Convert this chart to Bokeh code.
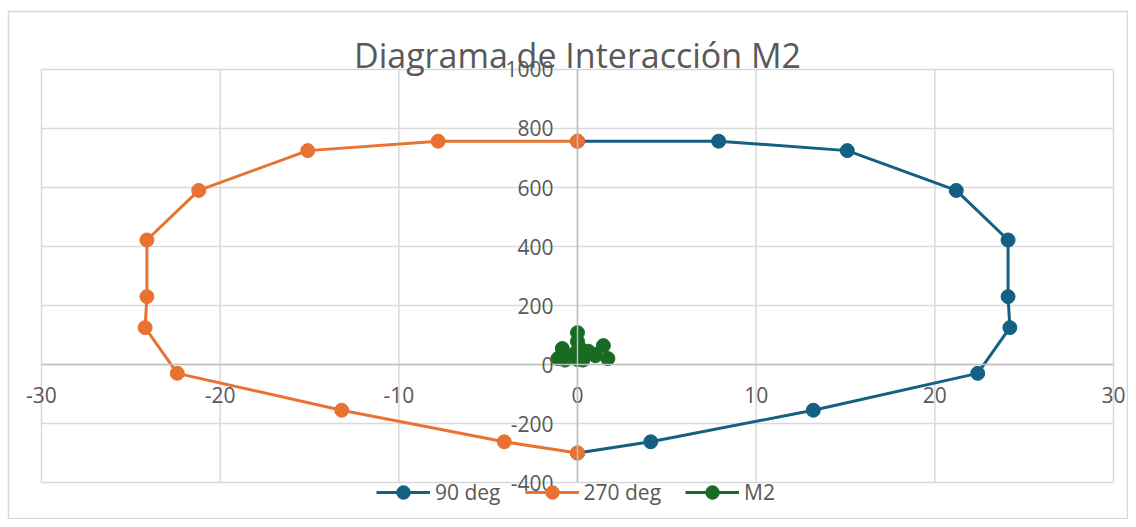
from bokeh.plotting import figure
from bokeh.models import (Range1d, LinearAxis, FixedTicker, Legend, LegendItem, Label,
                          CustomJSTickFormatter)
from bokeh.embed import file_html
from bokeh.resources import INLINE

# ---- data ----
title_text = "Diagrama de Interacción M2"
x_ticks = [-30, -20, -10, 0, 10, 20, 30]
y_ticks = [-400, -200, 0, 200, 400, 600, 800, 1000]

m_90 = [0, 4.1, 13.2, 22.4, 24.2, 24.1, 24.1, 21.2, 15.1, 7.9, 0]
p_90 = [-300, -262, -155, -30, 125, 230, 422, 590, 725, 757, 757]

m_270 = [0, -4.1, -13.2, -22.4, -24.2, -24.1, -24.1, -21.2, -15.1, -7.8, 0]
p_270 = [-300, -262, -155, -30, 125, 230, 422, 590, 725, 757, 757]

m_m2 = [0.0, 0.3, -0.7, -1.1, -0.85, -0.4, 0.0, 0.0, 0.0, 0.6, 1.45, 1.0, 1.7, 0.3]
p_m2 = [17, 15, 15, 20, 54, 30, 47, 78, 108, 45, 64, 30, 20, 35]

series_names = ["90 deg", "270 deg", "M2"]
colors = ["#156082", "#E97132", "#196B24"]

TEXT = "#595959"
GRID = "#D9D9D9"
FONT = "Open Sans"

# frame = whole chart area; the plot area inside it is bounded by the grid
p = figure(width=1128, height=519, output_backend="svg", toolbar_location=None,
           x_axis_type=None, y_axis_type=None,
           x_range=Range1d(-31.847, 30.840), y_range=Range1d(-525.4, 1196.6),
           min_border_left=8, min_border_right=0, min_border_top=11, min_border_bottom=0)
p.outline_line_color = GRID
p.outline_line_width = 1.5
p.background_fill_color = "white"
p.border_fill_color = "white"

# gridlines limited to the plot area
nx, ny = len(x_ticks), len(y_ticks)
p.segment(x0=x_ticks, x1=x_ticks, y0=[y_ticks[0]] * nx, y1=[y_ticks[-1]] * nx,
          line_color=GRID, line_width=1.5)
p.segment(x0=[x_ticks[0]] * ny, x1=[x_ticks[-1]] * ny, y0=y_ticks, y1=y_ticks,
          line_color=GRID, line_width=1.5)

fmt = CustomJSTickFormatter(code="return String(Math.round(tick));")
xt = FixedTicker(ticks=x_ticks)
yt = FixedTicker(ticks=y_ticks)
xax = LinearAxis(ticker=xt, fixed_location=0, bounds=(x_ticks[0], x_ticks[-1]), formatter=fmt)
yax = LinearAxis(ticker=yt, fixed_location=0, bounds=(y_ticks[0], y_ticks[-1]), formatter=fmt)
for ax in (xax, yax):
    ax.axis_line_color = "#BFBFBF"
    ax.axis_line_width = 1.5
    ax.major_tick_line_color = None
    ax.minor_tick_line_color = None
    ax.major_tick_out = 0
    ax.major_tick_in = 0
    ax.major_label_text_color = TEXT
    ax.major_label_text_font = FONT
    ax.major_label_text_font_size = "21px"
xax.major_label_standoff = 22
yax.major_label_standoff = 24
p.add_layout(xax, "below")
p.add_layout(yax, "left")

items = []
for mx, py, name, c in zip([m_90, m_270, m_m2], [p_90, p_270, p_m2], series_names, colors):
    ln = p.line(mx, py, line_color=c, line_width=3)
    sc = p.scatter(mx, py, size=14, fill_color=c, line_color=c)
    items.append(LegendItem(label=name, renderers=[ln, sc]))

legend = Legend(items=items, orientation="horizontal", location=(368, 10),
                border_line_alpha=0, background_fill_alpha=0, margin=0, padding=0,
                spacing=24, glyph_width=54, glyph_height=34, label_standoff=5,
                label_text_font=FONT, label_text_font_size="21px", label_text_color=TEXT)
p.add_layout(legend)

p.add_layout(Label(x=0, y=1050, text=title_text, text_align="center",
                   text_baseline="alphabetic", text_font=FONT, text_font_size="34px",
                   text_color=TEXT))

open("out.html", "w").write(file_html(p, INLINE))
